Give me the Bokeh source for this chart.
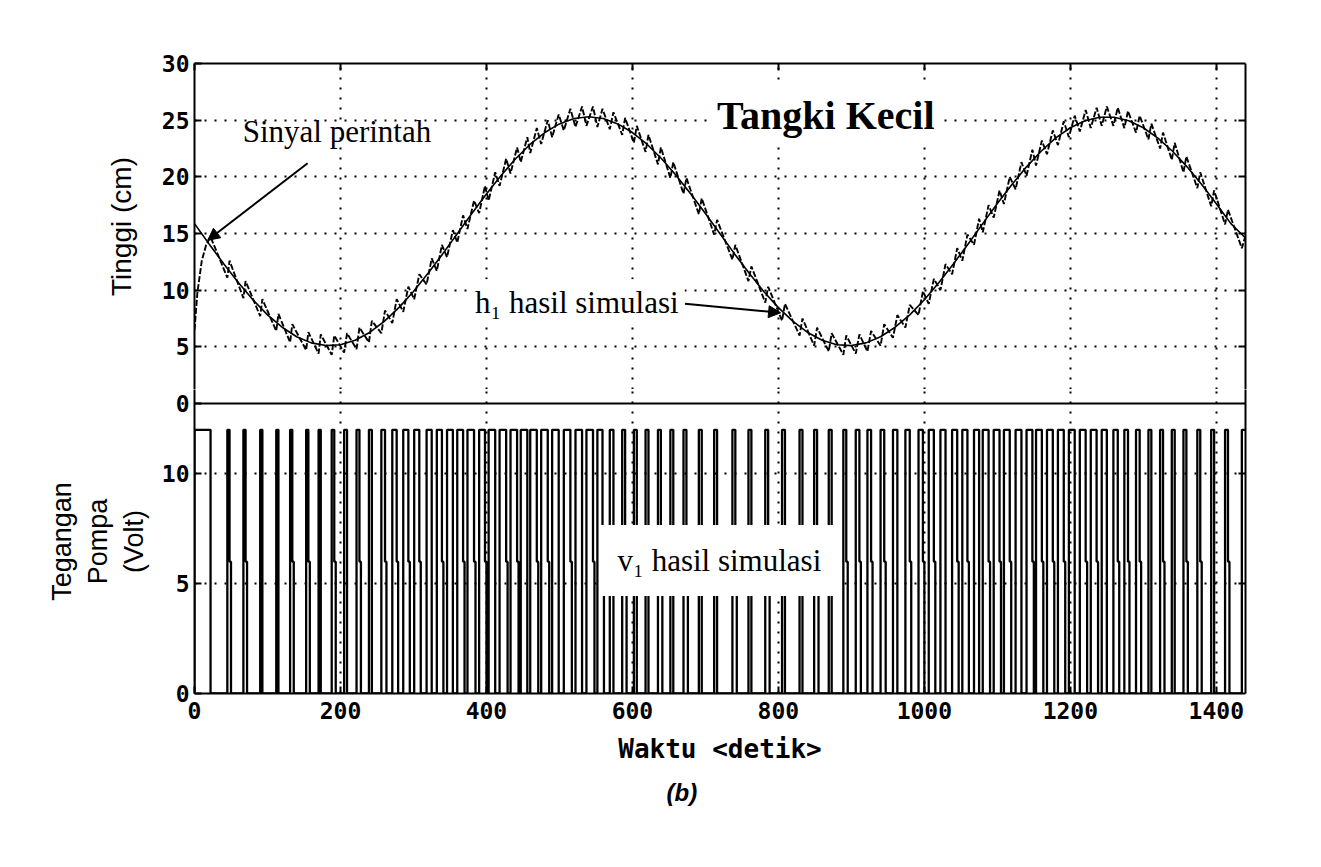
from bokeh.plotting import figure
from bokeh.layouts import column
from bokeh.models import (Range1d, Label, Arrow, NormalHead, FixedTicker, LinearAxis, Span,
                          Title, CustomJSTickFormatter)
from bokeh.embed import file_html
from bokeh.resources import INLINE

# ---------------- data ----------------
# reference (command) signal, sampled every 20 s
ref_t = list(range(0, 1441, 20))
ref_v = [15.87, 14.08, 12.33, 10.67, 9.16, 7.82, 6.73, 5.89, 5.35, 5.11,
         5.19, 5.58, 6.27, 7.24, 8.46, 9.89, 11.49, 13.20, 14.98, 16.76,
         18.49, 20.12, 21.60, 22.88, 23.91, 24.67, 25.14, 25.30, 25.14, 24.67,
         23.91, 22.88, 21.60, 20.12, 18.49, 16.76, 14.98, 13.20, 11.49, 9.89,
         8.46, 7.24, 6.27, 5.58, 5.19, 5.11, 5.35, 5.89, 6.73, 7.82,
         9.16, 10.67, 12.33, 14.08, 15.87, 17.64, 19.32, 20.88, 22.26, 23.43,
         24.33, 24.95, 25.26, 25.26, 24.95, 24.33, 23.42, 22.26, 20.88, 19.32,
         17.63, 15.87, 14.60]

# pump pulses: switch-on time (s), time at 12 V (s), time held at 6 V afterwards (s)
pulse_on = [0, 45, 67, 90, 112, 131, 153, 170, 188, 205,
            222, 239, 256, 271, 286, 301, 318, 332, 346, 360,
            374, 390, 403, 418, 433, 447, 460, 475, 490, 506,
            522, 537, 552, 569, 586, 602, 618, 635, 652, 670,
            691, 712, 737, 759, 782, 805, 829, 849, 869, 889,
            906, 922, 940, 957, 974, 992, 1006, 1022, 1038, 1052,
            1068, 1080, 1095, 1109, 1125, 1140, 1153, 1168, 1183, 1198,
            1213, 1228, 1243, 1259, 1274, 1290, 1307, 1323, 1339, 1355,
            1374, 1393, 1412, 1435]
pulse_w = [22, 3, 3, 3, 3, 3, 3, 3, 3.5, 4,
           4, 4, 5, 6, 7, 7, 7, 7, 8, 8,
           9, 8, 9, 9, 9, 9, 9, 9, 9, 9,
           9, 9, 7, 5, 4, 4, 4, 4, 4, 4,
           4, 4, 4, 4, 4, 4, 4, 4, 4, 4,
           5, 5, 5, 6, 6, 6, 7, 7, 7, 7,
           7, 8, 8, 8, 8, 8, 8, 8, 8, 8,
           8, 8, 7, 6, 5, 5, 4, 4, 4, 4,
           4, 4, 4, 5]
pulse_mid = [0, 2, 2, 0, 0, 2, 2, 0, 2, 0,
             2, 0, 2, 2, 2, 2, 0, 2, 0, 2,
             2, 2, 0, 2, 2, 0, 2, 2, 0, 2,
             0, 2, 2, 0, 2, 0, 0, 2, 0, 2,
             0, 0, 2, 0, 2, 0, 0, 2, 0, 2,
             2, 2, 2, 0, 2, 2, 2, 0, 2, 2,
             0, 2, 2, 2, 0, 2, 2, 2, 2, 0,
             2, 2, 0, 2, 2, 2, 0, 2, 0, 2,
             2, 0, 2, 0]
pulse_high = 12.0
pulse_step = 6.0

# simulated level h1: start-up, then trough (at each switch-on) and peak (at switch-off)
h1_start_t = [0, 4, 10, 16, 22]
h1_start_v = [6.5, 9.8, 12.6, 14.0, 14.7]
h1_trough = [11.1, 9.3, 7.7, 6.4, 5.4, 4.7, 4.4, 4.3, 4.5, 4.8,
             5.4, 6.2, 7.1, 8.1, 9.2, 10.5, 11.7, 12.9, 14.2, 15.4,
             16.8, 17.9, 19.2, 20.3, 21.3, 22.1, 22.9, 23.5, 24.1, 24.4,
             24.5, 24.4, 24.2, 23.7, 23.0, 22.2, 21.1, 19.9, 18.5, 16.7,
             14.9, 12.7, 10.8, 8.9, 7.3, 6.0, 5.1, 4.6, 4.3, 4.4,
             4.6, 5.1, 5.8, 6.7, 7.8, 8.8, 10.0, 11.4, 12.6, 14.0,
             15.1, 16.4, 17.6, 18.9, 20.1, 21.0, 22.0, 22.8, 23.5, 24.0,
             24.3, 24.5, 24.5, 24.3, 23.9, 23.3, 22.5, 21.5, 20.4, 19.0,
             17.4, 15.8, 13.7]
h1_peak = [12.6, 10.8, 9.2, 7.9, 7.0, 6.3, 6.1, 6.0, 6.2, 6.7,
           7.3, 8.2, 9.2, 10.3, 11.4, 12.8, 14.0, 15.3, 16.6, 17.9,
           19.2, 20.4, 21.6, 22.6, 23.5, 24.3, 25.0, 25.5, 26.0, 26.2,
           26.2, 26.0, 25.7, 25.2, 24.5, 23.7, 22.6, 21.3, 19.9, 18.1,
           16.2, 14.0, 12.1, 10.3, 8.8, 7.5, 6.7, 6.2, 6.0, 6.1,
           6.4, 7.0, 7.8, 8.7, 9.9, 11.0, 12.3, 13.7, 14.9, 16.3,
           17.5, 18.8, 20.0, 21.3, 22.4, 23.2, 24.1, 24.9, 25.4, 25.9,
           26.1, 26.2, 26.1, 25.8, 25.4, 24.7, 23.9, 23.0, 21.8, 20.4,
           18.8, 17.1, 14.8]

x_ticks = [0, 200, 400, 600, 800, 1000, 1200, 1400]
h_ticks = [5, 10, 15, 20, 25, 30]      # upper panel (its 0 sits on the divider)
v_ticks = [0, 5, 10]                    # lower panel
V_DIVIDER = 13.2                         # lower-panel value at the panel divider

T_END = 1440

# ---------------- build traces ----------------
h1_x = list(h1_start_t)
h1_y = list(h1_start_v)
for i in range(1, len(pulse_on)):
    h1_x += [pulse_on[i], min(pulse_on[i] + pulse_w[i], T_END)]
    h1_y += [h1_trough[i - 1], h1_peak[i - 1]]

v_x, v_y = [], []
for s, w, m in zip(pulse_on, pulse_w, pulse_mid):
    e = min(s + w, T_END)
    v_x += [s, s, e]
    v_y += [0, pulse_high, pulse_high]
    if e >= T_END:
        break
    if m > 0:
        v_x += [e, e + m, e + m]
        v_y += [pulse_step, pulse_step, 0]
    else:
        v_x += [e]
        v_y += [0]

# ---------------- styling helpers ----------------
MONO = "DejaVu Sans Mono"
SANS = "Liberation Sans"
SERIF = "Liberation Serif"
LEFT, RIGHT, FW = 194, 76, 1051
H_PX = 340 / 30.0        # px per cm in the upper panel
V_PX = 290 / V_DIVIDER   # px per volt in the lower panel
GAP = 14                 # px of the lower frame above the divider (room for the "0" label)

xr = Range1d(0, T_END)


def style_axis(ax, labels=True):
    ax.axis_line_color = "black"
    ax.axis_line_width = 2
    ax.major_tick_in = 7
    ax.major_tick_out = 0
    ax.minor_tick_in = 0
    ax.minor_tick_out = 0
    ax.major_tick_line_width = 2
    ax.major_tick_line_color = "black"
    ax.major_label_text_font = MONO
    ax.major_label_text_font_style = "bold"
    ax.major_label_text_font_size = "23px"
    ax.major_label_text_color = "black" if labels else None
    ax.axis_label_text_color = "black"


def style(p):
    p.background_fill_color = "white"
    p.border_fill_color = "white"
    p.outline_line_color = None
    for g in p.grid:
        g.grid_line_color = "black"
        g.grid_line_dash = "2 8"
        g.grid_line_width = 2


# ---------------- top panel ----------------
p1 = figure(frame_width=FW, frame_height=340 - GAP, min_border_left=LEFT, min_border_right=RIGHT,
            min_border_top=63, min_border_bottom=0, x_range=xr,
            y_range=Range1d(GAP / H_PX, 30),
            output_backend="svg", toolbar_location=None)
style(p1)
p1.xaxis.visible = False
p1.xgrid.ticker = FixedTicker(ticks=x_ticks)
p1.yaxis.ticker = FixedTicker(ticks=h_ticks)
p1.ygrid.ticker = FixedTicker(ticks=[5, 10, 15, 20, 25])
style_axis(p1.yaxis[0])
p1.yaxis.axis_label = "Tinggi (cm)"
p1.yaxis.axis_label_text_font = SANS
p1.yaxis.axis_label_text_font_style = "normal"
p1.yaxis.axis_label_text_font_size = "28px"
p1.yaxis.axis_label_standoff = 22

top_ax = LinearAxis(ticker=FixedTicker(ticks=x_ticks))
style_axis(top_ax, labels=False)
p1.add_layout(top_ax, "above")
right1 = LinearAxis(ticker=FixedTicker(ticks=[5, 10, 15, 20, 25]))
style_axis(right1, labels=False)
p1.add_layout(right1, "right")

p1.line(ref_t, ref_v, line_color="black", line_width=1.6)
p1.line(h1_x, h1_y, line_color="black", line_width=1.9, line_dash="6 2")

p1.add_layout(Label(x=705, y=25.4, text="Tangki Kecil", text_font=SERIF, text_font_size="40px",
                    text_font_style="bold", text_baseline="middle", text_color="black",
                    background_fill_color="white", padding=8))
p1.add_layout(Label(x=66, y=24.0, text="Sinyal perintah", text_font=SERIF, text_font_size="31px",
                    text_baseline="middle", text_color="black"))
p1.add_layout(Arrow(x_start=155, y_start=21.2, x_end=18, y_end=14.4, line_width=2, line_color="black",
                    end=NormalHead(size=12, fill_color="black", line_color="black")))
p1.add_layout(Label(x=376, y=8.9, text="h\u2081 hasil simulasi", text_font=SERIF, text_font_size="31px",
                    text_baseline="middle", text_color="black",
                    background_fill_color="white", padding=6))
p1.add_layout(Arrow(x_start=672, y_start=8.8, x_end=803, y_end=8.0, line_width=2, line_color="black",
                    end=NormalHead(size=12, fill_color="black", line_color="black")))

# ---------------- bottom panel ----------------
p2 = figure(frame_width=FW, frame_height=290 + GAP, min_border_left=LEFT, min_border_right=RIGHT,
            min_border_top=0, min_border_bottom=174 - GAP + GAP, x_range=xr,
            y_range=Range1d(0, V_DIVIDER + GAP / V_PX),
            output_backend="svg", toolbar_location=None)
p2.min_border_bottom = 174
p2.frame_height = 290 + GAP
style(p2)
p2.xaxis.ticker = FixedTicker(ticks=x_ticks)
p2.xgrid.ticker = FixedTicker(ticks=x_ticks)
p2.yaxis.ticker = FixedTicker(ticks=v_ticks + [V_DIVIDER])
p2.yaxis.formatter = CustomJSTickFormatter(code="return tick > 12.5 ? '0' : tick.toFixed(0);")
p2.ygrid.ticker = FixedTicker(ticks=[5, 10])
style_axis(p2.xaxis[0])
style_axis(p2.yaxis[0])
p2.xaxis.major_label_standoff = 8
p2.xaxis.axis_label = "Waktu <detik>"
p2.xaxis.axis_label_text_font = MONO
p2.xaxis.axis_label_text_font_style = "bold"
p2.xaxis.axis_label_text_font_size = "26px"
p2.xaxis.axis_label_standoff = 12
p2.yaxis.axis_label = "Tegangan\nPompa\n(Volt)"
p2.yaxis.axis_label_text_font = SANS
p2.yaxis.axis_label_text_font_style = "normal"
p2.yaxis.axis_label_text_font_size = "27px"
p2.yaxis.axis_label_standoff = 10

right2 = LinearAxis(ticker=FixedTicker(ticks=[5, 10]))
style_axis(right2, labels=False)
p2.add_layout(right2, "right")

p2.add_layout(Span(location=V_DIVIDER, dimension="width", line_color="black", line_width=2))

p2.line(v_x, v_y, line_color="black", line_width=2.3)

p2.add_layout(Label(x=555, y=6.05, text="v\u2081 hasil simulasi", text_font=SERIF, text_font_size="31px",
                    text_baseline="middle", text_color="black",
                    background_fill_color="white", padding=18))
p2.add_layout(Title(text="(b)", align="left", offset=472, text_font=SANS, text_font_size="24px",
                    text_font_style="bold italic", text_color="black", standoff=20), "below")

layout = column(p1, p2, spacing=0)
open("out.html", "w").write(file_html(layout, INLINE))
